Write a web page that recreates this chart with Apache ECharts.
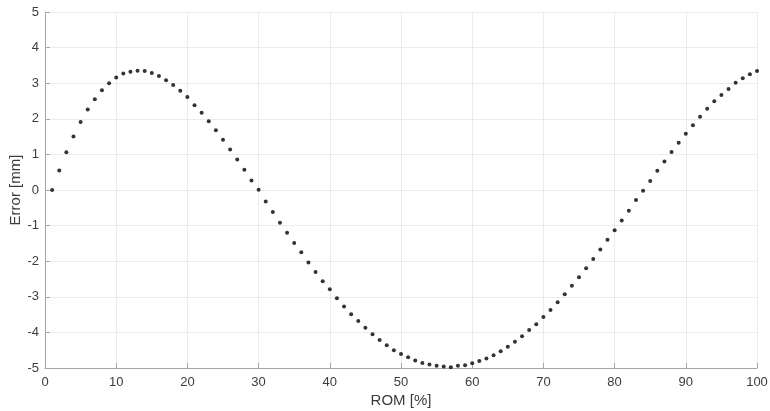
<!DOCTYPE html>
<html>
<head>
<meta charset="utf-8">
<script src="https://cdn.jsdelivr.net/npm/echarts@6/dist/echarts.min.js"></script>
<style>
  html, body { margin: 0; padding: 0; background: #fff; }
  #chart { width: 770px; height: 411px; }
</style>
</head>
<body>
<div id="chart"></div>
<script>
// ROM position (% of range of motion), one sample per percent
const romPercent = [
  1, 2, 3, 4, 5, 6, 7, 8, 9, 10,
  11, 12, 13, 14, 15, 16, 17, 18, 19, 20,
  21, 22, 23, 24, 25, 26, 27, 28, 29, 30,
  31, 32, 33, 34, 35, 36, 37, 38, 39, 40,
  41, 42, 43, 44, 45, 46, 47, 48, 49, 50,
  51, 52, 53, 54, 55, 56, 57, 58, 59, 60,
  61, 62, 63, 64, 65, 66, 67, 68, 69, 70,
  71, 72, 73, 74, 75, 76, 77, 78, 79, 80,
  81, 82, 83, 84, 85, 86, 87, 88, 89, 90,
  91, 92, 93, 94, 95, 96, 97, 98, 99, 100
];

// Position error in mm at each ROM sample
const errorMm = [
  0.00, 0.55, 1.06, 1.50, 1.91, 2.26, 2.55, 2.80, 3.00, 3.16,
  3.27, 3.32, 3.35, 3.34, 3.29, 3.20, 3.08, 2.95, 2.79, 2.61,
  2.38, 2.17, 1.93, 1.68, 1.41, 1.14, 0.86, 0.57, 0.27, 0.01,
  -0.32, -0.62, -0.92, -1.20, -1.49, -1.75, -2.04, -2.30, -2.56, -2.79,
  -3.04, -3.27, -3.49, -3.68, -3.87, -4.05, -4.21, -4.36, -4.50, -4.61,
  -4.70, -4.79, -4.86, -4.90, -4.94, -4.96, -4.98, -4.94, -4.92, -4.87,
  -4.80, -4.73, -4.64, -4.53, -4.40, -4.26, -4.11, -3.93, -3.77, -3.57,
  -3.37, -3.15, -2.93, -2.69, -2.45, -2.20, -1.94, -1.67, -1.40, -1.13,
  -0.86, -0.58, -0.28, -0.02, 0.25, 0.54, 0.80, 1.07, 1.33, 1.58,
  1.82, 2.06, 2.28, 2.49, 2.67, 2.84, 3.01, 3.14, 3.25, 3.34
];

const xTicks = { min: 0, max: 100, step: 10 };
const yTicks = { min: -5, max: 5, step: 1 };

const points = romPercent.map((x, i) => [x, errorMm[i]]);

const fontFamily = 'Helvetica, Arial, "Liberation Sans", sans-serif';
const textColor = '#3c3c3c';
const axisColor = '#a6a6a6';
const gridColor = '#ebebeb';

const chart = echarts.init(document.getElementById('chart'), null, { renderer: 'canvas' });

chart.setOption({
  animation: false,
  backgroundColor: '#ffffff',
  grid: {
    left: 45, right: 13, top: 12, bottom: 43,
    containLabel: false,
    outerBoundsMode: 'none'
  },
  xAxis: {
    type: 'value',
    min: xTicks.min,
    max: xTicks.max,
    interval: xTicks.step,
    name: 'ROM [%]',
    nameLocation: 'middle',
    nameGap: 25,
    nameMoveOverlap: false,
    nameTextStyle: { color: textColor, fontSize: 15, fontFamily: fontFamily },
    axisLine: { show: true, onZero: false, lineStyle: { color: axisColor, width: 1 } },
    axisTick: { show: true, inside: true, length: 5, lineStyle: { color: axisColor } },
    axisLabel: { color: textColor, fontSize: 13, fontFamily: fontFamily, margin: 8 },
    splitLine: { show: true, lineStyle: { color: gridColor, width: 1 } }
  },
  yAxis: {
    type: 'value',
    min: yTicks.min,
    max: yTicks.max,
    interval: yTicks.step,
    name: 'Error [mm]',
    nameLocation: 'middle',
    nameGap: 22,
    nameMoveOverlap: false,
    nameTextStyle: { color: textColor, fontSize: 15, fontFamily: fontFamily },
    axisLine: { show: true, onZero: false, lineStyle: { color: axisColor, width: 1 } },
    axisTick: { show: true, inside: true, length: 5, lineStyle: { color: axisColor } },
    axisLabel: { color: textColor, fontSize: 13, fontFamily: fontFamily, margin: 6 },
    splitLine: { show: true, lineStyle: { color: gridColor, width: 1 } }
  },
  series: [{
    type: 'scatter',
    data: points,
    symbol: 'circle',
    symbolSize: 4,
    itemStyle: { color: '#000000' },
    emphasis: { disabled: true }
  }]
});
</script>
</body>
</html>
